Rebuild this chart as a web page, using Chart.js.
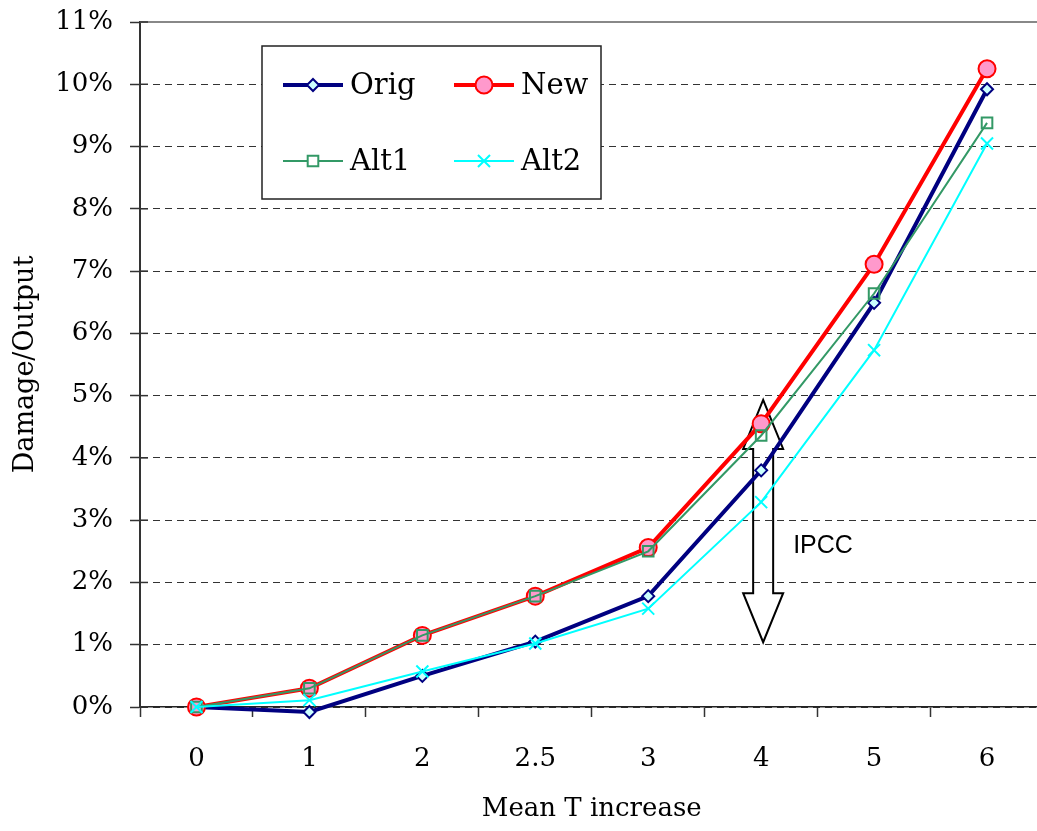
<!DOCTYPE html>
<html><head><meta charset="utf-8">
<script src="https://cdn.jsdelivr.net/npm/chart.js@4.4.1/dist/chart.umd.min.js"></script>
<style>html,body{margin:0;padding:0;background:#fff;overflow:hidden;} #wrap{width:1054px;height:831px;}</style>
</head><body><div id="wrap"><canvas id="c" width="1054" height="831"></canvas></div>
<script>
// ---- data ----
const categories = ['0', '1', '2', '2.5', '3', '4', '5', '6'];
const origValues = [0, -0.08, 0.5, 1.05, 1.78, 3.8, 6.49, 9.92];
const newValues  = [0, 0.3, 1.15, 1.78, 2.56, 4.55, 7.11, 10.25];
const alt1Values = [0, 0.3, 1.15, 1.78, 2.5, 4.36, 6.64, 9.38];
const alt2Values = [0, 0.11, 0.57, 1.02, 1.58, 3.29, 5.73, 9.05];
const seriesNames = ['Orig', 'New', 'Alt1', 'Alt2'];
const yMin = 0, yMax = 11, yStep = 1;
const yTickSuffix = '%';
const xTitle = 'Mean T increase';
const yTitle = 'Damage/Output';
const ipccCategory = '4';
const ipccFrom = 1.04, ipccTo = 4.93, ipccLabel = 'IPCC', ipccLabelAt = 2.58;

const SERIF = '"DejaVu Serif", serif';

function drawMarker(ctx, style, x, y, r) {
  ctx.beginPath();
  if (style === 'circle') { ctx.arc(x, y, r, 0, Math.PI * 2); }
  else if (style === 'rectRot') { ctx.moveTo(x, y - r); ctx.lineTo(x + r, y); ctx.lineTo(x, y + r); ctx.lineTo(x - r, y); ctx.closePath(); }
  else if (style === 'rect') { const s = r * Math.SQRT1_2; ctx.rect(x - s, y - s, 2 * s, 2 * s); }
  else if (style === 'crossRot') { const s = r * Math.SQRT1_2; ctx.moveTo(x - s, y - s); ctx.lineTo(x + s, y + s); ctx.moveTo(x + s, y - s); ctx.lineTo(x - s, y + s); }
}

const decorPlugin = {
  id: 'decor',
  beforeDatasetsDraw(chart) {
    const ctx = chart.ctx, ca = chart.chartArea;
    const xs = chart.scales.x, ys = chart.scales.y;
    ctx.save();
    // top frame line
    ctx.strokeStyle = '#888'; ctx.lineWidth = 2;
    ctx.beginPath(); ctx.moveTo(ca.left, ca.top); ctx.lineTo(ca.right, ca.top); ctx.stroke();
    // inward part of y ticks
    ctx.strokeStyle = '#333'; ctx.lineWidth = 1.5;
    ys.ticks.forEach(t => {
      const py = ys.getPixelForValue(t.value);
      ctx.beginPath(); ctx.moveTo(ca.left, py); ctx.lineTo(ca.left + 8, py); ctx.stroke();
    });
    // IPCC double arrow
    const cx = xs.getPixelForValue(categories.indexOf(ipccCategory)) + 2;
    const yt = ys.getPixelForValue(ipccTo), yb = ys.getPixelForValue(ipccFrom);
    const hw = 20, sw = 10, hl = 49;
    ctx.strokeStyle = '#000'; ctx.lineWidth = 2; ctx.lineJoin = 'miter';
    ctx.beginPath();
    ctx.moveTo(cx, yt);
    ctx.lineTo(cx + hw, yt + hl); ctx.lineTo(cx + sw, yt + hl);
    ctx.lineTo(cx + sw, yb - hl); ctx.lineTo(cx + hw, yb - hl);
    ctx.lineTo(cx, yb);
    ctx.lineTo(cx - hw, yb - hl); ctx.lineTo(cx - sw, yb - hl);
    ctx.lineTo(cx - sw, yt + hl); ctx.lineTo(cx - hw, yt + hl);
    ctx.closePath(); ctx.stroke();
    ctx.fillStyle = '#000'; ctx.font = '25px "Liberation Sans", Arial, sans-serif';
    ctx.textAlign = 'left'; ctx.textBaseline = 'middle';
    ctx.fillText(ipccLabel, cx + 30, ys.getPixelForValue(ipccLabelAt));
    ctx.restore();
  },
  afterDraw(chart) {
    const ctx = chart.ctx, ca = chart.chartArea;
    const bx = ca.left + 122, by = ca.top + 24, bw = 339, bh = 153;
    ctx.save();
    ctx.fillStyle = '#fff'; ctx.fillRect(bx, by, bw, bh);
    ctx.strokeStyle = '#222'; ctx.lineWidth = 1.5; ctx.strokeRect(bx, by, bw, bh);
    const cols = [bx + 21, bx + 192], rows = [by + 39, by + 115];
    chart.data.datasets.forEach((ds, i) => {
      const x0 = cols[i % 2], y0 = rows[Math.floor(i / 2)];
      ctx.strokeStyle = ds.borderColor; ctx.lineWidth = ds.borderWidth;
      ctx.beginPath(); ctx.moveTo(x0, y0); ctx.lineTo(x0 + 60, y0); ctx.stroke();
      ctx.lineWidth = ds.pointBorderWidth;
      ctx.strokeStyle = ds.pointBorderColor;
      ctx.fillStyle = ds.pointBackgroundColor === 'transparent' ? '#fff' : ds.pointBackgroundColor;
      drawMarker(ctx, ds.pointStyle, x0 + 30, y0, ds.pointRadius);
      if (ds.pointStyle !== 'crossRot') ctx.fill();
      ctx.stroke();
      ctx.fillStyle = '#000'; ctx.font = '29px ' + SERIF;
      ctx.textAlign = 'left'; ctx.textBaseline = 'middle';
      ctx.fillText(ds.label, x0 + 67, y0 + 1);
    });
    ctx.restore();
  }
};

new Chart(document.getElementById('c'), {
  type: 'line',
  data: {
    labels: categories,
    datasets: [
      { label: seriesNames[0], data: origValues, borderColor: '#000080', borderWidth: 4,
        pointStyle: 'rectRot', pointRadius: 6, pointBorderWidth: 2, pointBorderColor: '#000080',
        pointBackgroundColor: '#ccffff', order: 4, clip: false, tension: 0 },
      { label: seriesNames[1], data: newValues, borderColor: '#ff0000', borderWidth: 4,
        pointStyle: 'circle', pointRadius: 8.5, pointBorderWidth: 2, pointBorderColor: '#ff0000',
        pointBackgroundColor: '#ff99cc', order: 3, clip: false, tension: 0 },
      { label: seriesNames[2], data: alt1Values, borderColor: '#339966', borderWidth: 2,
        pointStyle: 'rect', pointRadius: 7.5, pointBorderWidth: 2, pointBorderColor: '#339966',
        pointBackgroundColor: 'transparent', order: 2, clip: false, tension: 0 },
      { label: seriesNames[3], data: alt2Values, borderColor: '#00ffff', borderWidth: 2,
        pointStyle: 'crossRot', pointRadius: 8.5, pointBorderWidth: 2, pointBorderColor: '#00ffff',
        pointBackgroundColor: '#00ffff', order: 1, clip: false, tension: 0 }
    ]
  },
  options: {
    responsive: false, animation: false, devicePixelRatio: 1,
    layout: { padding: { top: 22, right: 0, left: 0, bottom: 0 } },
    plugins: { legend: { display: false }, tooltip: { enabled: false } },
    scales: {
      x: {
        type: 'category', offset: true,
        grid: { offset: true, drawOnChartArea: false, drawTicks: true, tickLength: 10, tickColor: '#333', tickWidth: 1.5 },
        border: { display: true, color: '#222', width: 1.5 },
        ticks: { color: '#000', font: { family: SERIF, size: 26 }, padding: 27, maxRotation: 0 },
        title: { display: true, text: xTitle, color: '#000', font: { family: SERIF, size: 26 }, padding: { top: 6, bottom: 6 } },
        afterFit(s) { s.height = 124; s.paddingLeft = 0; s.paddingRight = 0; }
      },
      y: {
        min: yMin, max: yMax,
        grid: { color: '#333', lineWidth: 1, drawTicks: true, tickLength: 10, tickColor: '#333', tickWidth: 1.5, tickBorderDash: [] },
        border: { display: true, color: '#333', width: 2, dash: [7, 5] },
        ticks: { stepSize: yStep, color: '#000', font: { family: SERIF, size: 26 }, padding: 17,
                 callback: v => v + yTickSuffix },
        title: { display: true, text: yTitle, color: '#000', font: { family: SERIF, size: 27 }, padding: { top: 10, bottom: 10 } },
        afterFit(s) { s.width = 140; s.paddingTop = 0; s.paddingBottom = 0; }
      }
    }
  },
  plugins: [decorPlugin]
});
</script>
</body></html>
